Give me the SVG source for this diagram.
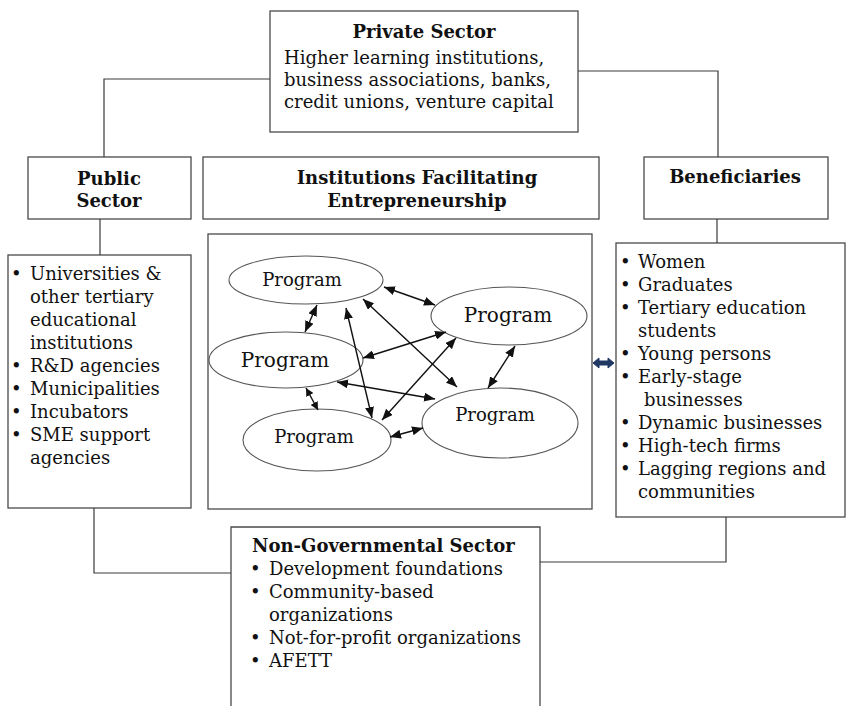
<svg xmlns="http://www.w3.org/2000/svg" width="847" height="706" viewBox="0 0 847 706">
<defs>
<style>
.box{fill:#fff;stroke:#4a4a4a;stroke-width:1.3}
.ell{fill:#fff;stroke:#555;stroke-width:1.1}
.conn{fill:none;stroke:#3a3a3a;stroke-width:1.2}
.arr{fill:none;stroke:#111;stroke-width:1.4;marker-start:url(#ah);marker-end:url(#ah)}
text{font-family:"DejaVu Serif","Liberation Serif",serif;fill:#111;font-size:18px}
.b{font-weight:bold}
.c{text-anchor:middle}
</style>
<marker id="ah" viewBox="0 0 11 9" refX="11" refY="4.5" markerWidth="11" markerHeight="9" markerUnits="userSpaceOnUse" orient="auto-start-reverse">
<path d="M0,0 L11,4.5 L0,9 z" fill="#111"/>
</marker>
<marker id="ahs" viewBox="0 0 8 8" refX="8" refY="4" markerWidth="8" markerHeight="8" markerUnits="userSpaceOnUse" orient="auto-start-reverse">
<path d="M0,0 L8,4 L0,8 z" fill="#111"/>
</marker>
</defs>
<rect width="847" height="706" fill="#fff"/>

<g id="private-sector">
<rect class="box" x="270" y="11" width="308" height="121"/>
<text class="b c" x="424" y="38">Private Sector</text>
<text x="284" y="64">Higher learning institutions,</text>
<text x="284" y="86">business associations, banks,</text>
<text x="284" y="108">credit unions, venture capital</text>
</g>

<g id="public-sector">
<rect class="box" x="28" y="157" width="163" height="62"/>
<text class="b c" x="109" y="185">Public</text>
<text class="b c" x="109" y="207">Sector</text>
</g>

<g id="institutions">
<rect class="box" x="203" y="157" width="396" height="62"/>
<text class="b c" x="417" y="184">Institutions Facilitating</text>
<text class="b c" x="417" y="207">Entrepreneurship</text>
</g>

<g id="beneficiaries">
<rect class="box" x="644" y="157" width="184" height="62"/>
<text class="b c" x="735" y="183">Beneficiaries</text>
</g>

<g id="public-list">
<rect class="box" x="8" y="255" width="183" height="253"/>
<text y="280"><tspan x="11">•</tspan><tspan x="30">Universities &amp;</tspan></text>
<text x="30" y="303">other tertiary</text>
<text x="30" y="326">educational</text>
<text x="30" y="349">institutions</text>
<text y="372"><tspan x="11">•</tspan><tspan x="30">R&amp;D agencies</tspan></text>
<text y="395"><tspan x="11">•</tspan><tspan x="30">Municipalities</tspan></text>
<text y="418"><tspan x="11">•</tspan><tspan x="30">Incubators</tspan></text>
<text y="441"><tspan x="11">•</tspan><tspan x="30">SME support</tspan></text>
<text x="30" y="464">agencies</text>
</g>

<g id="programs">
<rect class="box" x="208" y="234" width="384" height="275"/>
<g id="program-1"><ellipse class="ell" cx="306" cy="280" rx="77" ry="24"/><text class="c" x="302" y="286">Program</text></g>
<g id="program-2"><ellipse class="ell" cx="509" cy="316" rx="78" ry="29"/><text class="c" x="508" y="322" style="font-size:20px">Program</text></g>
<g id="program-3"><ellipse class="ell" cx="286" cy="360" rx="77" ry="28"/><text class="c" x="285" y="367" style="font-size:20px">Program</text></g>
<g id="program-4"><ellipse class="ell" cx="500" cy="423" rx="78" ry="35"/><text class="c" x="495" y="421">Program</text></g>
<g id="program-5"><ellipse class="ell" cx="317" cy="440" rx="74" ry="31"/><text class="c" x="314" y="443">Program</text></g>
</g>

<g id="beneficiaries-list">
<rect class="box" x="616" y="243" width="229" height="274"/>
<text y="268"><tspan x="620">•</tspan><tspan x="638">Women</tspan></text>
<text y="291"><tspan x="620">•</tspan><tspan x="638">Graduates</tspan></text>
<text y="314"><tspan x="620">•</tspan><tspan x="638">Tertiary education</tspan></text>
<text x="638" y="337">students</text>
<text y="360"><tspan x="620">•</tspan><tspan x="638">Young persons</tspan></text>
<text y="383"><tspan x="620">•</tspan><tspan x="638">Early-stage</tspan></text>
<text x="644" y="406">businesses</text>
<text y="429"><tspan x="620">•</tspan><tspan x="638">Dynamic businesses</tspan></text>
<text y="452"><tspan x="620">•</tspan><tspan x="638">High-tech firms</tspan></text>
<text y="475"><tspan x="620">•</tspan><tspan x="638">Lagging regions and</tspan></text>
<text x="638" y="498">communities</text>
</g>

<g id="non-governmental">
<path class="box" d="M231,710 V527 H540 V710"/>
<text class="b" x="252" y="552">Non-Governmental Sector</text>
<text y="575"><tspan x="250">•</tspan><tspan x="269">Development foundations</tspan></text>
<text y="598"><tspan x="250">•</tspan><tspan x="269">Community-based</tspan></text>
<text x="269" y="621">organizations</text>
<text y="644"><tspan x="250">•</tspan><tspan x="269">Not-for-profit organizations</tspan></text>
<text y="667"><tspan x="250">•</tspan><tspan x="269">AFETT</tspan></text>
</g>

<g id="connectors">
<polyline class="conn" points="270,79 104,79 104,157"/>
<polyline class="conn" points="578,71 718,71 718,157"/>
<line class="conn" x1="100" y1="219" x2="100" y2="255"/>
<line class="conn" x1="717" y1="219" x2="717" y2="243"/>
<polyline class="conn" points="94,508 94,573 231,573"/>
<polyline class="conn" points="540,562 726,562 726,517"/>
<line class="arr" x1="384" y1="287" x2="435" y2="305"/>
<line class="arr" x1="317" y1="305" x2="305" y2="332"/>
<line class="arr" x1="346" y1="308" x2="372" y2="418"/>
<line class="arr" x1="363" y1="299" x2="457" y2="387"/>
<line class="arr" x1="363" y1="358" x2="446" y2="332"/>
<line class="arr" x1="382" y1="420" x2="456" y2="338"/>
<line class="arr" x1="337" y1="382" x2="435" y2="399"/>
<line class="arr" x1="306" y1="388" x2="318" y2="410" style="marker-start:url(#ahs);marker-end:url(#ahs)"/>
<line class="arr" x1="390" y1="437" x2="423" y2="428"/>
<line class="arr" x1="515" y1="346" x2="488" y2="388"/>
<polygon points="593,363 599,358 599,361 608,361 608,358 614,363 608,368 608,365 599,365 599,368" fill="#1f3864" stroke="#1f3864" stroke-width="1"/>
</g>
</svg>
